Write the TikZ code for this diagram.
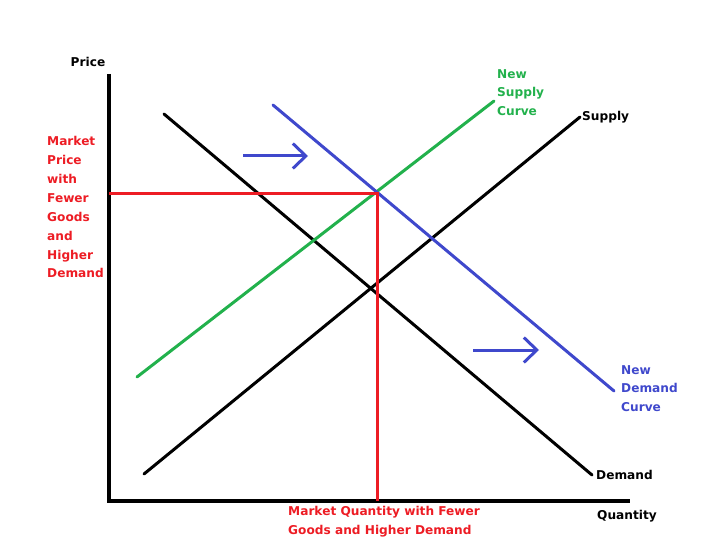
\documentclass[tikz,border=0pt]{standalone}
\usepackage{fontspec}
\setmainfont{DejaVu Sans}
\usepackage{tikz}
\usetikzlibrary{arrows.meta, positioning}
\definecolor{marketred}{RGB}{237, 28, 36}
\definecolor{supplygreen}{RGB}{34, 177, 76}
\definecolor{demandblue}{RGB}{63, 72, 204}

\begin{document}
\begin{tikzpicture}[
        x={(1bp,0)}, y={(0,-1bp)},
        font=\bfseries\fontsize{12.2}{19}\selectfont,
        % Styles
        axis/.style={line width=3.4bp, black},
        curve/.style={line width=3bp, line cap=round},
        guide/.style={line width=3bp, marketred},
        shiftarrow/.style={line width=3bp, demandblue, -{Straight Barb[length=13bp, width=25bp, line width=3bp]}},
        lbl/.style={inner sep=0pt, align=left}
    ]
    \useasboundingbox (0,0) rectangle (702,545);

    % ==============================
    % 1. AXES
    % ==============================
    \coordinate (origin) at (109,501);
    \coordinate (ytop) at (109,74);
    \coordinate (xend) at (630,501);
    \draw[axis] (ytop) -- (origin) -- (xend);

    \node[lbl, anchor=center] (price) at (88,62) {Price};
    \node[lbl, anchor=west] (quantity) at (597,516) {Quantity};

    % ==============================
    % 2. ORIGINAL CURVES
    % ==============================
    \coordinate (s_low) at (144,474);
    \coordinate (s_high) at (580,117);
    \coordinate (d_high) at (164,114);
    \coordinate (d_low) at (592,475);
    \draw[curve] (s_low) -- (s_high);
    \draw[curve] (d_high) -- (d_low);

    \node[lbl, anchor=west, right=2bp of s_high] (supply) {Supply};
    \node[lbl, anchor=west, right=4bp of d_low] (demand) {Demand};

    % ==============================
    % 3. SHIFTED CURVES
    % ==============================
    \coordinate (ns_low) at (137,377);
    \coordinate (ns_high) at (494,101);
    \coordinate (nd_high) at (273,105);
    \coordinate (nd_low) at (614,391);
    \draw[curve, supplygreen] (ns_low) -- (ns_high);
    \draw[curve, demandblue] (nd_high) -- (nd_low);

    \node[lbl, anchor=north west, text=supplygreen] (new_supply) at (497,69) {New\\Supply\\Curve};
    \node[lbl, anchor=north west, text=demandblue] (new_demand) at (621,365) {New\\Demand\\Curve};

    % shift arrows
    \coordinate (arr1_start) at (243,156);
    \coordinate (arr1_end) at (308,156);
    \coordinate (arr2_start) at (473,350);
    \coordinate (arr2_end) at (539,350);
    \draw[shiftarrow] (arr1_start) -- (arr1_end);
    \draw[shiftarrow] (arr2_start) -- (arr2_end);

    % ==============================
    % 4. NEW EQUILIBRIUM
    % ==============================
    \coordinate (eq) at (377,194);
    \coordinate (eq_p) at (109,194);
    \coordinate (eq_q) at (377,501);
    \draw[guide] (eq_p) -- (eq) -- (eq_q);

    \node[lbl, anchor=north west, text=marketred] (price_note) at (47,136)
        {Market\\Price\\with\\Fewer\\Goods\\and\\Higher\\Demand};
    \node[lbl, anchor=north west, text=marketred] (qty_note) at (288,506)
        {Market Quantity with Fewer\\Goods and Higher Demand};

\end{tikzpicture}
\end{document}
